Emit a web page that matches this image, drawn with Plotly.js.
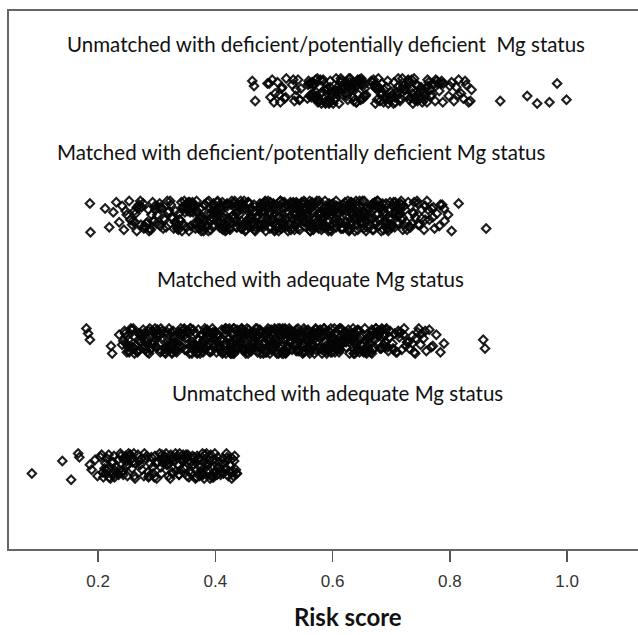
<!DOCTYPE html>
<html>
<head>
<meta charset="utf-8">
<script src="https://cdn.plot.ly/plotly-3.0.1.min.js"></script>
<style>html,body{margin:0;padding:0;background:#fff;}#chart{width:638px;height:635px;}</style>
</head>
<body>
<div id="chart"></div>
<script>
// Group labels (top to bottom) and their strip levels
const groupLabels = [
  "Unmatched with deficient/potentially deficient\u00a0\u00a0Mg status",
  "Matched with deficient/potentially deficient Mg status",
  "Matched with adequate Mg status",
  "Unmatched with adequate Mg status"
];
const groupLevels = [4, 3, 2, 1];

const xTicks = [0.2, 0.4, 0.6, 0.8, 1.0];
const xTickLabels = ["0.2", "0.4", "0.6", "0.8", "1.0"];
const xTitle = "Risk score";

// Risk scores, group 1: unmatched, deficient/potentially deficient
const g1Risk = [0.463,0.466,0.468,0.489,0.494,0.497,0.502,0.506,0.511,0.514,0.518,0.521,0.509,0.531,0.535,0.538,0.541,0.544,0.546,0.537,
0.557,0.583,0.612,0.569,0.641,0.596,0.622,0.561,0.649,0.578,0.604,0.633,0.588,0.655,0.571,0.617,0.593,0.627,0.564,0.645,
0.608,0.575,0.638,0.599,0.559,0.652,0.586,0.614,0.624,0.567,0.636,0.591,0.603,0.646,0.572,0.619,0.581,0.629,0.657,0.562,
0.598,0.643,0.577,0.609,0.631,0.585,0.651,0.566,0.621,0.594,0.639,0.573,0.606,0.626,0.589,0.654,0.563,0.615,0.601,0.634,
0.668,0.702,0.735,0.681,0.759,0.716,0.744,0.673,0.782,0.694,0.727,0.751,0.687,0.771,0.709,0.739,0.676,0.763,0.699,0.722,
0.747,0.684,0.788,0.713,0.731,0.666,0.755,0.692,0.741,0.719,0.775,0.679,0.705,0.767,0.729,0.689,0.752,0.671,0.737,0.711,
0.785,0.697,0.724,0.762,0.683,0.745,0.707,0.778,0.733,0.674,
0.798,0.803,0.807,0.811,0.815,0.819,0.823,0.828,0.832,0.837,
0.886,0.932,0.949,0.970,0.983,0.999,
0.558,0.587,0.615,0.642,0.571,0.601,0.628,0.653,0.565,0.594,0.621,0.648,0.579,0.607,0.635,0.56,0.59,0.618,0.644,0.574,
0.603,0.632,0.584,0.656,0.568,0.611,0.637,0.596,0.623,0.576,0.65,0.605,0.63,0.582,0.613,0.64,0.592,0.57,0.626,0.599,
0.67,0.698,0.726,0.753,0.78,0.685,0.712,0.74,0.767,0.677,0.704,0.732,0.758,0.786,0.691,0.718,0.745,0.772,0.682,0.71,
0.736,0.764,0.695,0.721,0.749,0.776,0.688,0.715,0.743,0.769,0.678,0.706,0.734,0.761,0.789,0.7,0.728,0.756,0.672,0.742,
0.492,0.5,0.513,0.52,0.533,0.543,0.8,0.814,0.826,0.835];
// vertical jitter in hundredths of a group spacing
const g1Jitter = [8,4,-8,6,-5,9,-2,7,-9,3,-6,10,-3,5,-8,1,9,-7,2,-4,
-6,8,-1,5,-9,3,7,-4,10,-7,0,6,-10,2,9,-3,-8,4,-5,7,
3,-9,6,-2,8,-6,1,10,-4,5,-8,2,-7,9,-1,4,-10,7,-3,6,
-5,9,-8,0,4,-6,8,-2,6,-9,3,-4,10,-7,1,5,-3,8,-10,2,
7,-3,9,-8,2,-6,5,-10,0,8,-4,3,-9,6,-1,10,-7,4,-5,1,
-2,6,-9,4,-7,8,-1,3,-5,10,-8,2,7,-4,9,-6,0,5,-10,3,
6,-7,1,9,-3,4,-9,8,-5,2,
-4,7,-8,3,9,-2,-6,5,-9,1,
-8,-4,-10,-9,6,-7,
5,-9,2,8,-6,-1,10,-4,7,-10,3,-7,9,0,-5,6,-8,4,-3,10,
-7,1,9,-4,6,-10,3,8,-2,-8,5,-6,10,-1,7,-9,2,-5,4,-3,
9,-5,3,-9,6,-2,10,-7,1,4,-10,7,-3,8,-6,2,-8,5,-1,-4,
-2,7,-10,4,-6,9,1,-8,5,-3,10,-5,2,-9,6,-1,8,-7,3,-4,
6,-9,2,-5,9,-7,4,-3,8,-8];

// group 2: matched, deficient/potentially deficient
const g2Risk = [0.186,0.187,0.212,0.219,0.226,0.231,0.236,0.241,0.244,0.249,0.253,0.258,0.262,0.266,0.27,0.255,0.274,0.278,0.264,0.282,
0.286,0.29,0.272,0.294,0.297,0.279,0.301,0.305,0.287,0.309,0.312,0.293,0.316,0.319,0.3,0.323,0.326,0.307,0.329,0.332,
0.336,0.361,0.379,0.404,0.425,0.453,0.471,0.498,0.519,0.546,0.565,0.592,0.609,0.638,0.656,0.685,0.702,0.348,0.393,0.462,
0.342,0.364,0.392,0.411,0.439,0.457,0.485,0.503,0.531,0.549,0.578,0.596,0.623,0.641,0.669,0.688,0.713,0.417,0.536,0.605,
0.351,0.369,0.397,0.421,0.441,0.468,0.487,0.514,0.533,0.561,0.579,0.607,0.626,0.653,0.671,0.699,0.717,0.378,0.502,0.627,
0.338,0.358,0.386,0.406,0.434,0.452,0.481,0.499,0.527,0.545,0.573,0.591,0.619,0.637,0.665,0.683,0.709,0.448,0.563,0.674,
0.355,0.374,0.402,0.419,0.448,0.466,0.494,0.512,0.542,0.558,0.588,0.604,0.634,0.651,0.679,0.697,0.72,0.359,0.488,0.594,
0.344,0.371,0.389,0.416,0.436,0.463,0.482,0.509,0.529,0.555,0.575,0.601,0.621,0.648,0.667,0.694,0.711,0.404,0.52,0.646,
0.333,0.356,0.384,0.408,0.427,0.455,0.477,0.501,0.523,0.547,0.568,0.593,0.614,0.639,0.662,0.686,0.706,0.428,0.571,0.689,
0.349,0.372,0.396,0.414,0.443,0.461,0.489,0.507,0.536,0.553,0.582,0.599,0.628,0.645,0.673,0.691,0.718,0.366,0.544,0.632,
0.339,0.365,0.388,0.411,0.433,0.458,0.479,0.505,0.525,0.551,0.572,0.598,0.618,0.643,0.664,0.69,0.704,0.456,0.586,0.701,
0.347,0.367,0.395,0.413,0.442,0.459,0.488,0.506,0.534,0.552,0.581,0.598,0.627,0.644,0.672,0.69,0.714,0.382,0.513,0.658,
0.335,0.362,0.381,0.409,0.429,0.456,0.475,0.502,0.521,0.548,0.567,0.594,0.613,0.64,0.659,0.687,0.708,0.437,0.557,0.617,
0.353,0.376,0.399,0.422,0.445,0.469,0.491,0.515,0.538,0.561,0.584,0.607,0.63,0.653,0.676,0.699,0.716,0.395,0.478,0.668,
0.452,0.476,0.497,0.523,0.541,0.566,0.587,0.612,0.633,0.473,0.518,0.562,0.608,0.447,0.493,0.538,0.583,0.629,0.504,0.549,
0.722,0.726,0.729,0.733,0.737,0.741,0.745,0.748,0.752,0.756,0.761,0.765,0.769,0.774,0.778,0.782,0.787,0.791,0.797,0.803,
0.724,0.731,0.739,0.758,0.772,0.815,0.862,
0.337,0.359,0.383,0.405,0.431,0.449,0.476,0.494,0.52,0.54,0.566,0.585,0.611,0.631,0.657,0.677,0.703,0.263,0.298,0.746,
0.346,0.366,0.394,0.412,0.44,0.458,0.486,0.504,0.532,0.55,0.577,0.596,0.624,0.642,0.67,0.688,0.712,0.277,0.314,0.758,
0.341,0.368,0.385,0.414,0.432,0.46,0.478,0.507,0.524,0.553,0.57,0.599,0.616,0.645,0.662,0.692,0.707,0.284,0.321,0.771,
0.352,0.373,0.4,0.419,0.447,0.465,0.493,0.511,0.539,0.557,0.586,0.603,0.632,0.649,0.678,0.695,0.719,0.269,0.306,0.738,
0.334,0.355,0.38,0.401,0.426,0.447,0.472,0.493,0.518,0.539,0.564,0.585,0.61,0.631,0.656,0.677,0.701,0.291,0.327,0.784,
0.357,0.378,0.403,0.424,0.449,0.47,0.495,0.516,0.541,0.562,0.587,0.608,0.633,0.654,0.679,0.7,0.715,0.259,0.303,0.727,
0.343,0.362,0.391,0.409,0.437,0.456,0.483,0.502,0.529,0.548,0.576,0.594,0.622,0.641,0.668,0.687,0.709,0.273,0.318,0.752,
0.35,0.374,0.397,0.42,0.444,0.467,0.49,0.513,0.537,0.56,0.583,0.606,0.629,0.652,0.676,0.698,0.721,0.247,0.311,0.763,
0.339,0.361,0.387,0.407,0.433,0.454,0.48,0.5,0.526,0.547,0.572,0.593,0.619,0.639,0.665,0.685,0.705,0.288,0.324,0.735,
0.354,0.377,0.398,0.423,0.444,0.469,0.49,0.515,0.536,0.561,0.582,0.607,0.628,0.654,0.674,0.696,0.717,0.281,0.331,0.79,
0.345,0.369,0.392,0.415,0.438,0.462,0.485,0.508,0.531,0.555,0.578,0.601,0.624,0.647,0.671,0.694,0.713,0.266,0.296,0.744,
0.4,0.425,0.458,0.482,0.509,0.533,0.558,0.581,0.606,0.63,0.655,0.414,0.446,0.473,0.497,0.528,0.552,0.575,0.598,0.623,
0.436,0.461,0.489,0.511,0.535,0.563,0.589,0.613,0.637,0.664,0.421,0.451,0.484,0.516,0.547,0.569,0.597,0.618,0.644,0.466];
const g2Jitter = [10,-13,6,-9,3,11,-5,8,-11,1,12,-7,4,-12,9,-3,7,-10,2,-6,
5,-11,12,-4,8,-8,1,10,-12,6,-2,11,-9,3,-6,12,-1,7,-10,4,
-7,9,-3,12,-11,5,-1,8,-9,2,11,-5,7,-12,0,10,-8,3,-4,6,
11,-6,2,-10,8,-3,12,-8,5,-1,9,-11,4,-7,10,-4,1,-12,7,-2,
-9,4,10,-5,1,-12,7,-2,11,-8,3,-6,12,-10,6,-3,9,-1,-11,5,
2,-8,11,-4,7,-11,4,10,-6,0,12,-9,5,-2,8,-12,3,-7,9,-5,
-12,6,-1,9,-7,3,11,-10,5,-3,8,-5,1,12,-8,4,-11,7,-2,10,
7,-4,12,-9,2,-6,10,-1,-11,6,-8,3,11,-5,9,-10,0,5,-3,12,
-5,11,-8,1,9,-3,6,-12,4,10,-7,2,-10,8,-1,5,-9,12,-6,3,
9,-10,3,-6,12,-2,7,-9,1,11,-4,6,-12,2,-7,10,-3,8,-11,4,
-3,8,-12,5,-1,10,-7,4,-9,12,-5,1,9,-11,6,-4,11,-8,3,-2,
12,-7,4,-11,8,-1,5,-9,10,-5,2,-12,7,-3,11,-6,1,9,-10,6,
-10,3,9,-6,0,11,-8,6,-2,10,-11,4,-5,12,-9,2,8,-4,-1,7,
4,-12,7,-3,10,-9,2,11,-6,5,-1,8,-10,3,12,-7,6,-2,9,-11,
-6,10,-2,8,-10,4,12,-5,1,-8,7,-12,3,9,-4,11,-9,5,-7,0,
8,-5,11,-9,3,-1,10,-7,5,-11,12,-3,6,-10,2,-8,9,-4,1,-12,
5,-9,11,-3,7,10,-10,
-11,4,9,-6,1,12,-8,3,-2,10,-9,6,-4,11,-12,2,8,-5,5,-7,
7,-10,-1,11,-7,5,-12,9,2,-4,12,-8,0,6,-11,3,-6,10,-3,8,
-4,12,-9,2,10,-6,7,-1,-12,5,-3,9,-10,8,1,-7,11,-5,4,-1,
10,-2,5,-11,8,-8,3,12,-5,1,-9,4,11,-6,7,-12,-1,6,-8,2,
-8,6,-12,3,-5,9,0,-10,11,-3,7,-7,2,10,-4,12,-9,1,-2,9,
3,-7,11,-10,6,-1,-9,5,8,-12,4,1,-6,12,-3,-8,10,-4,7,-11,
-12,8,-3,7,-9,11,-6,2,10,-1,-10,6,-4,3,9,-11,5,-7,12,-2,
6,-1,-8,10,-4,-11,12,-6,3,9,-2,-9,8,-5,1,11,-7,4,-10,5,
-3,11,2,-9,12,-5,-2,8,-7,4,10,-12,6,-1,-8,7,3,-10,9,-6,
11,-9,7,-3,-10,3,9,-4,-8,12,-6,5,-11,1,8,-2,12,-9,-5,6,
-7,3,-11,8,4,-2,11,-12,6,-5,2,10,-8,-1,9,-10,5,7,-4,12,
1,-6,10,-9,5,-3,8,-11,12,-7,3,-1,-10,6,-4,11,-8,2,9,-5,
-9,5,-4,12,-11,7,1,-6,10,-2,8,-12,4,-7,11,-3,6,-10,0,9];

// group 3: matched, adequate
const g3Risk = [0.18,0.183,0.186,0.222,0.224,0.236,0.241,0.245,0.249,0.252,0.256,0.259,0.263,0.266,0.27,0.273,0.277,0.28,0.284,0.287,
0.291,0.294,0.248,0.297,0.268,0.3,0.282,0.257,0.289,0.275,0.262,0.296,0.243,0.279,0.286,0.253,0.271,0.293,0.26,0.299,
0.302,0.326,0.349,0.374,0.395,0.423,0.441,0.468,0.489,0.516,0.535,0.562,0.579,0.608,0.626,0.655,0.672,0.318,0.363,0.432,
0.308,0.331,0.362,0.381,0.409,0.427,0.455,0.473,0.501,0.519,0.548,0.566,0.593,0.611,0.639,0.658,0.683,0.387,0.506,0.575,
0.321,0.339,0.367,0.391,0.411,0.438,0.457,0.484,0.503,0.531,0.549,0.577,0.596,0.623,0.641,0.669,0.687,0.348,0.472,0.597,
0.304,0.328,0.356,0.376,0.404,0.422,0.451,0.469,0.497,0.515,0.543,0.561,0.589,0.607,0.635,0.653,0.679,0.418,0.533,0.644,
0.325,0.344,0.372,0.389,0.418,0.436,0.464,0.482,0.512,0.528,0.558,0.574,0.604,0.621,0.649,0.667,0.69,0.329,0.458,0.564,
0.314,0.341,0.359,0.386,0.406,0.433,0.452,0.479,0.499,0.525,0.545,0.571,0.591,0.618,0.637,0.664,0.681,0.374,0.49,0.616,
0.303,0.326,0.354,0.378,0.397,0.425,0.447,0.471,0.493,0.517,0.538,0.563,0.584,0.609,0.632,0.656,0.676,0.398,0.541,0.659,
0.319,0.342,0.366,0.384,0.413,0.431,0.459,0.477,0.506,0.523,0.552,0.569,0.598,0.615,0.643,0.661,0.688,0.336,0.514,0.602,
0.309,0.335,0.358,0.381,0.403,0.428,0.449,0.475,0.495,0.521,0.542,0.568,0.588,0.613,0.634,0.66,0.674,0.426,0.556,0.671,
0.317,0.337,0.365,0.383,0.412,0.429,0.458,0.476,0.504,0.522,0.551,0.568,0.597,0.614,0.642,0.66,0.684,0.352,0.483,0.628,
0.305,0.332,0.351,0.379,0.399,0.426,0.445,0.472,0.491,0.518,0.537,0.564,0.583,0.61,0.629,0.657,0.678,0.407,0.527,0.587,
0.323,0.346,0.369,0.392,0.415,0.439,0.461,0.485,0.508,0.531,0.554,0.577,0.6,0.623,0.646,0.669,0.691,0.365,0.448,0.638,
0.422,0.446,0.467,0.493,0.511,0.536,0.557,0.582,0.603,0.443,0.488,0.532,0.578,0.417,0.463,0.508,0.553,0.599,0.474,0.519,
0.694,0.698,0.702,0.706,0.71,0.714,0.718,0.722,0.727,0.731,0.736,0.741,0.745,0.75,0.755,0.76,0.765,0.771,0.777,0.784,
0.697,0.704,0.712,0.725,0.739,0.752,0.79,0.857,0.86,
0.306,0.329,0.353,0.377,0.4,0.424,0.447,0.471,0.494,0.518,0.541,0.565,0.588,0.612,0.636,0.659,0.682,0.251,0.274,0.703,
0.312,0.334,0.361,0.382,0.408,0.429,0.456,0.477,0.503,0.524,0.551,0.572,0.598,0.619,0.646,0.666,0.689,0.258,0.285,0.716,
0.318,0.341,0.364,0.387,0.411,0.434,0.458,0.482,0.505,0.529,0.552,0.576,0.599,0.623,0.646,0.67,0.692,0.264,0.29,0.729,
0.301,0.327,0.348,0.374,0.396,0.421,0.443,0.469,0.491,0.516,0.538,0.563,0.586,0.611,0.633,0.658,0.678,0.246,0.281,0.742,
0.322,0.345,0.369,0.392,0.416,0.439,0.463,0.486,0.51,0.533,0.557,0.58,0.604,0.627,0.651,0.674,0.695,0.269,0.295,0.758,
0.31,0.332,0.357,0.379,0.404,0.426,0.451,0.473,0.498,0.52,0.545,0.567,0.592,0.614,0.639,0.662,0.685,0.255,0.278,0.708,
0.315,0.338,0.362,0.385,0.409,0.432,0.455,0.479,0.502,0.526,0.549,0.573,0.596,0.62,0.643,0.667,0.688,0.262,0.288,0.736,
0.303,0.324,0.351,0.371,0.398,0.418,0.445,0.466,0.492,0.513,0.54,0.56,0.587,0.608,0.634,0.655,0.681,0.249,0.284,0.721,
0.324,0.347,0.37,0.394,0.417,0.441,0.464,0.488,0.511,0.535,0.558,0.582,0.605,0.629,0.652,0.676,0.697,0.267,0.292,0.768,
0.307,0.331,0.355,0.378,0.402,0.425,0.449,0.472,0.496,0.519,0.543,0.566,0.59,0.614,0.637,0.661,0.684,0.253,0.276,0.713,
0.313,0.336,0.36,0.383,0.407,0.43,0.454,0.477,0.501,0.524,0.548,0.571,0.595,0.618,0.642,0.665,0.686,0.271,0.298,0.747,
0.38,0.405,0.437,0.461,0.488,0.512,0.537,0.561,0.585,0.61,0.635,0.393,0.425,0.452,0.476,0.507,0.531,0.555,0.578,0.603,
0.415,0.44,0.468,0.49,0.514,0.542,0.568,0.592,0.616,0.641,0.4,0.43,0.463,0.495,0.526,0.548,0.576,0.597,0.623,0.445];
const g3Jitter = [10,6,1,-4,-10,5,-3,8,-9,1,10,-5,3,-8,6,-1,9,-4,2,-10,
-6,7,-2,10,-8,4,-1,9,-7,3,-10,6,0,-4,8,-9,5,-3,10,-5,
6,-9,2,-4,10,-7,4,-1,8,-10,3,-6,9,-2,5,-8,1,7,-3,-10,
-8,3,9,-5,1,-10,6,-2,10,-7,4,-3,8,-9,0,5,-6,2,-1,7,
10,-4,6,-9,2,-6,9,-1,-8,4,-10,3,7,-5,1,8,-3,-7,5,-2,
-3,8,-10,5,-1,9,-7,3,-5,10,-8,1,6,-4,10,-9,4,-2,7,-6,
7,-5,1,-8,10,-2,5,-10,3,8,-6,0,-9,6,-3,9,-1,4,-7,2,
-9,6,-3,9,-6,1,-10,7,-2,5,-4,10,-8,2,-7,4,8,-5,0,-1,
4,-10,8,-1,6,-7,2,10,-4,-8,9,-3,5,-6,1,-9,7,-2,10,-5,
-1,5,-7,3,-9,10,-4,6,0,-6,8,-10,2,-3,9,-8,4,-5,7,1,
8,-2,10,-6,4,-8,1,-5,9,-9,3,7,-1,-7,5,-4,10,-10,2,6,
-7,1,-4,8,-10,6,-6,9,-3,2,-9,5,10,-2,-8,3,-5,8,-1,4,
5,-8,3,-2,7,-5,10,-9,1,6,-3,-7,4,9,-10,0,6,-4,8,-6,
-4,9,-9,6,-3,2,-8,5,-10,7,1,-6,3,-1,8,-7,9,-5,4,-10,
2,-6,7,-10,5,-3,8,-7,10,-1,-9,4,-5,9,-2,6,-8,3,-4,1,
-5,8,-2,6,-9,3,-7,10,-1,-6,4,-10,7,-3,2,-8,9,-4,5,-9,
3,-7,8,-4,-9,6,-2,1,-6,
-9,3,8,-5,1,10,-7,4,-2,9,-8,6,-4,10,-10,2,7,-5,5,-6,
6,-9,-1,10,-6,5,-10,8,2,-4,10,-7,0,6,-9,3,-5,9,-3,7,
-4,10,-8,2,9,-5,6,-1,-10,5,-3,8,-9,7,1,-6,10,-4,4,-1,
9,-2,5,-10,7,-7,3,10,-5,1,-8,4,10,-6,6,-10,-1,6,-7,2,
-7,6,-10,3,-5,8,0,-9,10,-3,6,-6,2,9,-4,10,-8,1,-2,8,
3,-6,10,-9,5,-1,-8,5,7,-10,4,1,-5,10,-3,-7,9,-4,6,-9,
-10,7,-3,6,-8,10,-5,2,9,-1,-9,5,-4,3,8,-10,4,-6,10,-2,
5,-1,-7,9,-4,-10,10,-6,3,8,-2,-8,7,-5,1,10,-6,4,-9,5,
-3,10,2,-8,10,-5,-2,7,-6,4,9,-10,6,-1,-7,7,3,-9,8,-5,
10,-8,6,-3,-9,3,8,-4,-7,10,-6,5,-10,1,7,-2,10,-8,-5,6,
-6,3,-10,7,4,-2,10,-10,6,-5,2,9,-7,-1,8,-9,5,6,-4,10,
1,-5,9,-8,5,-3,7,-10,10,-6,3,-1,-9,6,-4,10,-7,2,8,-5,
-8,5,-4,10,-10,6,1,-5,9,-2,7,-10,4,-6,10,-3,6,-9,0,8];

// group 4: unmatched, adequate
const g4Risk = [0.087,0.139,0.154,0.166,0.168,0.186,0.189,0.195,0.199,0.206,0.211,0.215,0.219,0.223,0.208,0.227,0.231,0.235,0.213,0.238,
0.242,0.246,0.221,0.251,0.255,0.233,0.259,0.262,0.244,0.217,0.253,0.228,0.248,0.257,0.236,0.261,0.225,0.249,0.24,0.264,
0.268,0.275,0.281,0.287,0.272,0.279,0.285,0.291,0.296,0.302,0.307,0.313,0.294,0.318,0.323,0.299,0.328,0.333,0.309,0.338,
0.343,0.347,0.316,0.352,0.357,0.326,0.361,0.366,0.336,0.371,0.375,0.345,0.379,0.384,0.355,0.389,0.393,0.364,0.398,0.402,
0.373,0.407,0.411,0.382,0.416,0.42,0.391,0.425,0.429,0.401,0.433,0.436,0.305,0.341,0.312,0.368,0.321,0.377,0.331,0.386,
0.349,0.395,0.359,0.405,0.369,0.414,0.378,0.423,0.387,0.431,0.396,0.418,0.353,0.409,0.362,0.427,0.334,0.381,0.344,0.435,
0.297,0.358,0.311,0.367,0.325,0.388,0.339,0.403,0.319,0.413,
0.204,0.229,0.252,0.278,0.301,0.327,0.35,0.374,0.397,0.421,0.214,0.239,0.263,0.289,0.315,0.338,0.362,0.385,0.41,0.432,
0.209,0.234,0.258,0.283,0.308,0.332,0.356,0.38,0.404,0.428,0.218,0.243,0.27,0.293,0.32,0.344,0.368,0.392,0.415,0.437,
0.226,0.25,0.274,0.3,0.324,0.348,0.372,0.394,0.419,0.43,0.212,0.247,0.286,0.317,0.351,0.376,0.399,0.408,0.422,0.365];
const g4Jitter = [-6,4,-11,10,7,1,-3,5,-8,9,-2,6,-9,3,-5,8,-1,-7,2,10,
-4,7,-10,1,9,-6,3,-8,5,-2,8,-9,0,6,-3,10,-7,4,-5,2,
9,-3,6,-8,1,10,-5,7,-9,3,-1,8,-6,4,-10,2,7,-4,9,-7,
5,-2,10,-8,3,-5,8,-10,1,6,-4,9,-7,2,-9,5,-1,7,-6,4,
-8,3,-5,9,-2,7,-10,1,6,-4,8,-6,10,-3,5,-9,2,-7,4,0,
6,-9,3,-1,8,-6,10,-4,2,-8,5,-2,9,-7,1,-5,7,-10,4,-3,
8,-6,2,-9,5,-3,10,-7,1,6,
7,-4,10,-8,3,-6,9,-1,-9,5,-3,8,-10,2,6,-7,1,10,-5,4,
-9,5,-2,8,-6,10,-4,3,7,-10,9,-7,4,-1,-8,6,-3,9,2,-6,
3,-8,6,-10,9,-2,5,-7,10,-4,-6,8,-9,1,7,-5,10,-3,-8,4];

const groupRisk = [g1Risk, g2Risk, g3Risk, g4Risk];
const groupJitter = [g1Jitter, g2Jitter, g3Jitter, g4Jitter];

const traces = groupRisk.map((xs, gi) => ({
  type: 'scatter',
  mode: 'markers',
  name: groupLabels[gi],
  x: xs,
  y: xs.map((_, i) => groupLevels[gi] + groupJitter[gi][i] / 100),
  marker: {
    symbol: 'diamond-open',
    size: 6.5,
    color: 'rgba(5,5,5,0.9)',
    line: {width: 2.1}
  },
  hoverinfo: 'x'
}));

const annoPos = [
  {x: 0.504, y: 0.9387},
  {x: 0.464, y: 0.738},
  {x: 0.480, y: 0.502},
  {x: 0.523, y: 0.290}
];

const annotations = groupLabels.map((t, i) => ({
  text: t,
  xref: 'paper', yref: 'paper',
  x: annoPos[i].x, y: annoPos[i].y,
  xanchor: 'center', yanchor: 'middle',
  showarrow: false,
  font: {family: 'Lato, sans-serif', size: 20.5, color: '#111'}
}));
// x-axis title, placed as in the reference (slightly right of centre, near the bottom edge)
annotations.push({
  text: '<b>' + xTitle + '</b>',
  xref: 'paper', yref: 'paper',
  x: 0.539, y: -0.157,
  xanchor: 'center', yanchor: 'bottom',
  showarrow: false,
  font: {family: 'Lato, sans-serif', size: 24, color: '#111'}
});

const layout = {
  width: 638,
  height: 635,
  margin: {l: 9, r: 0, t: 11, b: 86},
  paper_bgcolor: '#fff',
  plot_bgcolor: '#fff',
  showlegend: false,
  xaxis: {
    range: [0.048, 1.121],
    tickvals: xTicks,
    ticktext: xTickLabels,
    ticks: 'outside',
    ticklen: 11,
    tickwidth: 1.5,
    tickcolor: '#555',
    ticklabelstandoff: 5,
    showline: true,
    linecolor: '#666',
    linewidth: 2,
    mirror: true,
    showgrid: false,
    zeroline: false,
    tickfont: {family: 'Liberation Sans, Arial, sans-serif', size: 17, color: '#333'}
  },
  yaxis: {
    range: [0.336, 4.64],
    showline: true,
    linecolor: '#666',
    linewidth: 2,
    showticklabels: false,
    ticks: '',
    showgrid: false,
    zeroline: false
  },
  annotations: annotations
};

Plotly.newPlot('chart', traces, layout, {displayModeBar: false, staticPlot: true});
</script>
</body>
</html>
